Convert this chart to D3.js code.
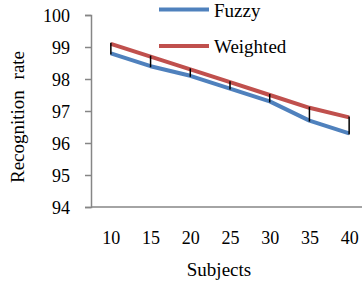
<!DOCTYPE html>
<html>
<head>
<meta charset="utf-8">
<script src="https://cdn.jsdelivr.net/npm/d3@7"></script>
<style>
  body { margin: 0; background: #fff; }
  svg text { font-family: "Liberation Serif", "Times New Roman", serif; fill: #000; }
</style>
</head>
<body>
<div id="chart"></div>
<script>
const subjects = [10, 15, 20, 25, 30, 35, 40];
const fuzzy = [98.8, 98.4, 98.1, 97.7, 97.3, 96.7, 96.3];
const weighted = [99.1, 98.7, 98.3, 97.9, 97.5, 97.1, 96.8];
const yTicks = [94, 95, 96, 97, 98, 99, 100];

const width = 362, height = 284;
const svg = d3.select("#chart").append("svg")
  .attr("width", width)
  .attr("height", height);

const x = d3.scalePoint()
  .domain(subjects)
  .range([91, 369])
  .padding(0.5);
const y = d3.scaleLinear()
  .domain([94, 100])
  .range([207, 15]);

// Y axis
const yAxis = svg.append("g")
  .attr("transform", "translate(91,0)")
  .attr("font-family", "Liberation Serif")
  .call(d3.axisLeft(y).tickValues(yTicks).tickSize(6).tickPadding(15).tickFormat(d3.format("d")));
yAxis.select(".domain").attr("stroke", "#868686").attr("stroke-width", 1.5);
yAxis.selectAll(".tick line").attr("stroke", "#868686").attr("stroke-width", 1.5);
yAxis.selectAll(".tick text").attr("font-size", 18).attr("dy", "0.34em");

// X axis
const xAxis = svg.append("g")
  .attr("transform", "translate(0,207)")
  .attr("font-family", "Liberation Serif")
  .call(d3.axisBottom(x).tickSize(0).tickPadding(24));
xAxis.select(".domain").attr("d", "M91,0H362").attr("stroke", "#868686").attr("stroke-width", 1.5);
xAxis.selectAll(".tick text").attr("font-size", 18);

const line = d3.line()
  .x((d, i) => x(subjects[i]))
  .y(d => y(d));

svg.append("path")
  .datum(fuzzy)
  .attr("fill", "none")
  .attr("stroke", "#4F81BD")
  .attr("stroke-width", 4)
  .attr("stroke-linejoin", "round")
  .attr("d", line);

svg.append("path")
  .datum(weighted)
  .attr("fill", "none")
  .attr("stroke", "#C0504D")
  .attr("stroke-width", 4)
  .attr("stroke-linejoin", "round")
  .attr("d", line);

// difference bars
svg.selectAll(".bar")
  .data(subjects)
  .enter().append("line")
  .attr("x1", d => x(d))
  .attr("x2", d => x(d))
  .attr("y1", (d, i) => y(weighted[i]) - 1)
  .attr("y2", (d, i) => y(fuzzy[i]) + 1)
  .attr("stroke", "#000")
  .attr("stroke-width", 1.5);

// legend
const legend = [["Fuzzy", "#4F81BD", 9.5], ["Weighted", "#C0504D", 46]];
legend.forEach(([name, color, ly]) => {
  svg.append("line")
    .attr("x1", 159).attr("x2", 209)
    .attr("y1", ly).attr("y2", ly)
    .attr("stroke", color)
    .attr("stroke-width", 4);
  svg.append("text")
    .attr("x", 214).attr("y", ly + 7)
    .attr("font-size", 19)
    .text(name);
});

// axis titles
svg.append("text")
  .attr("transform", "translate(24,117) rotate(-90)")
  .attr("text-anchor", "middle")
  .attr("font-size", 19)
  .attr("word-spacing", 6)
  .text("Recognition rate");

svg.append("text")
  .attr("x", 219).attr("y", 276)
  .attr("text-anchor", "middle")
  .attr("font-size", 19)
  .text("Subjects");
</script>
</body>
</html>
